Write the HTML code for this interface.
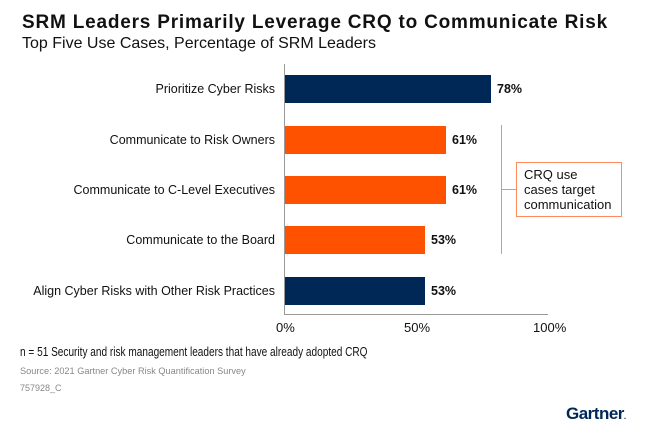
<!DOCTYPE html>
<html><head><meta charset="utf-8"><style>
body{margin:0;width:658px;height:441px;background:#fff;font-family:"Liberation Sans",sans-serif;position:relative;overflow:hidden;color:#111}
div{position:absolute;white-space:nowrap}
.lab{right:383px;font-size:12.5px;line-height:16px}
.bar{left:285px;height:28px}
.v{font-size:12.5px;font-weight:bold;line-height:16px}
.t{font-size:13px;top:320px;line-height:16px}
</style></head><body>
<div style="left:22px;top:12px;font-size:19px;font-weight:bold;letter-spacing:0.8px">SRM Leaders Primarily Leverage CRQ to Communicate Risk</div>
<div style="left:22px;top:35px;font-size:16px">Top Five Use Cases, Percentage of SRM Leaders</div>

<div style="left:284px;top:64px;width:1px;height:251px;background:#999"></div>
<div style="left:284px;top:314px;width:264px;height:1px;background:#999"></div>

<div class="lab" style="top:81px">Prioritize Cyber Risks</div>
<div class="lab" style="top:132px">Communicate to Risk Owners</div>
<div class="lab" style="top:182px">Communicate to C-Level Executives</div>
<div class="lab" style="top:232px">Communicate to the Board</div>
<div class="lab" style="top:283px">Align Cyber Risks with Other Risk Practices</div>

<div class="bar" style="top:75px;width:206px;background:#002856"></div>
<div class="bar" style="top:126px;width:161px;background:#ff5200"></div>
<div class="bar" style="top:176px;width:161px;background:#ff5200"></div>
<div class="bar" style="top:226px;width:140px;background:#ff5200"></div>
<div class="bar" style="top:277px;width:140px;background:#002856"></div>

<div class="v" style="left:497px;top:81px">78%</div>
<div class="v" style="left:452px;top:132px">61%</div>
<div class="v" style="left:452px;top:182px">61%</div>
<div class="v" style="left:431px;top:232px">53%</div>
<div class="v" style="left:431px;top:283px">53%</div>

<div class="t" style="left:276px">0%</div>
<div class="t" style="left:404px">50%</div>
<div class="t" style="left:533px">100%</div>

<div style="left:501px;top:125px;width:1px;height:129px;background:#ff8a5c"></div>
<div style="left:501px;top:189px;width:15px;height:1px;background:#ff8a5c"></div>
<div style="left:516px;top:162px;width:104px;height:53px;border:1px solid #ff8a5c"></div>
<div style="left:524px;top:167px;font-size:13px;line-height:15px;white-space:normal">CRQ use<br>cases target<br>communication</div>

<div style="left:20px;top:344px;font-size:13px;transform:scaleX(0.775);transform-origin:left">n = 51 Security and risk management leaders that have already adopted CRQ</div>
<div style="left:20px;top:366px;font-size:9.2px;color:#888">Source: 2021 Gartner Cyber Risk Quantification Survey</div>
<div style="left:20px;top:383px;font-size:9px;color:#888">757928_C</div>
<div style="left:566px;top:404px;font-size:17px;font-weight:bold;color:#002856;letter-spacing:-0.5px">Gartner<span style="font-size:8px">.</span></div>
</body></html>
